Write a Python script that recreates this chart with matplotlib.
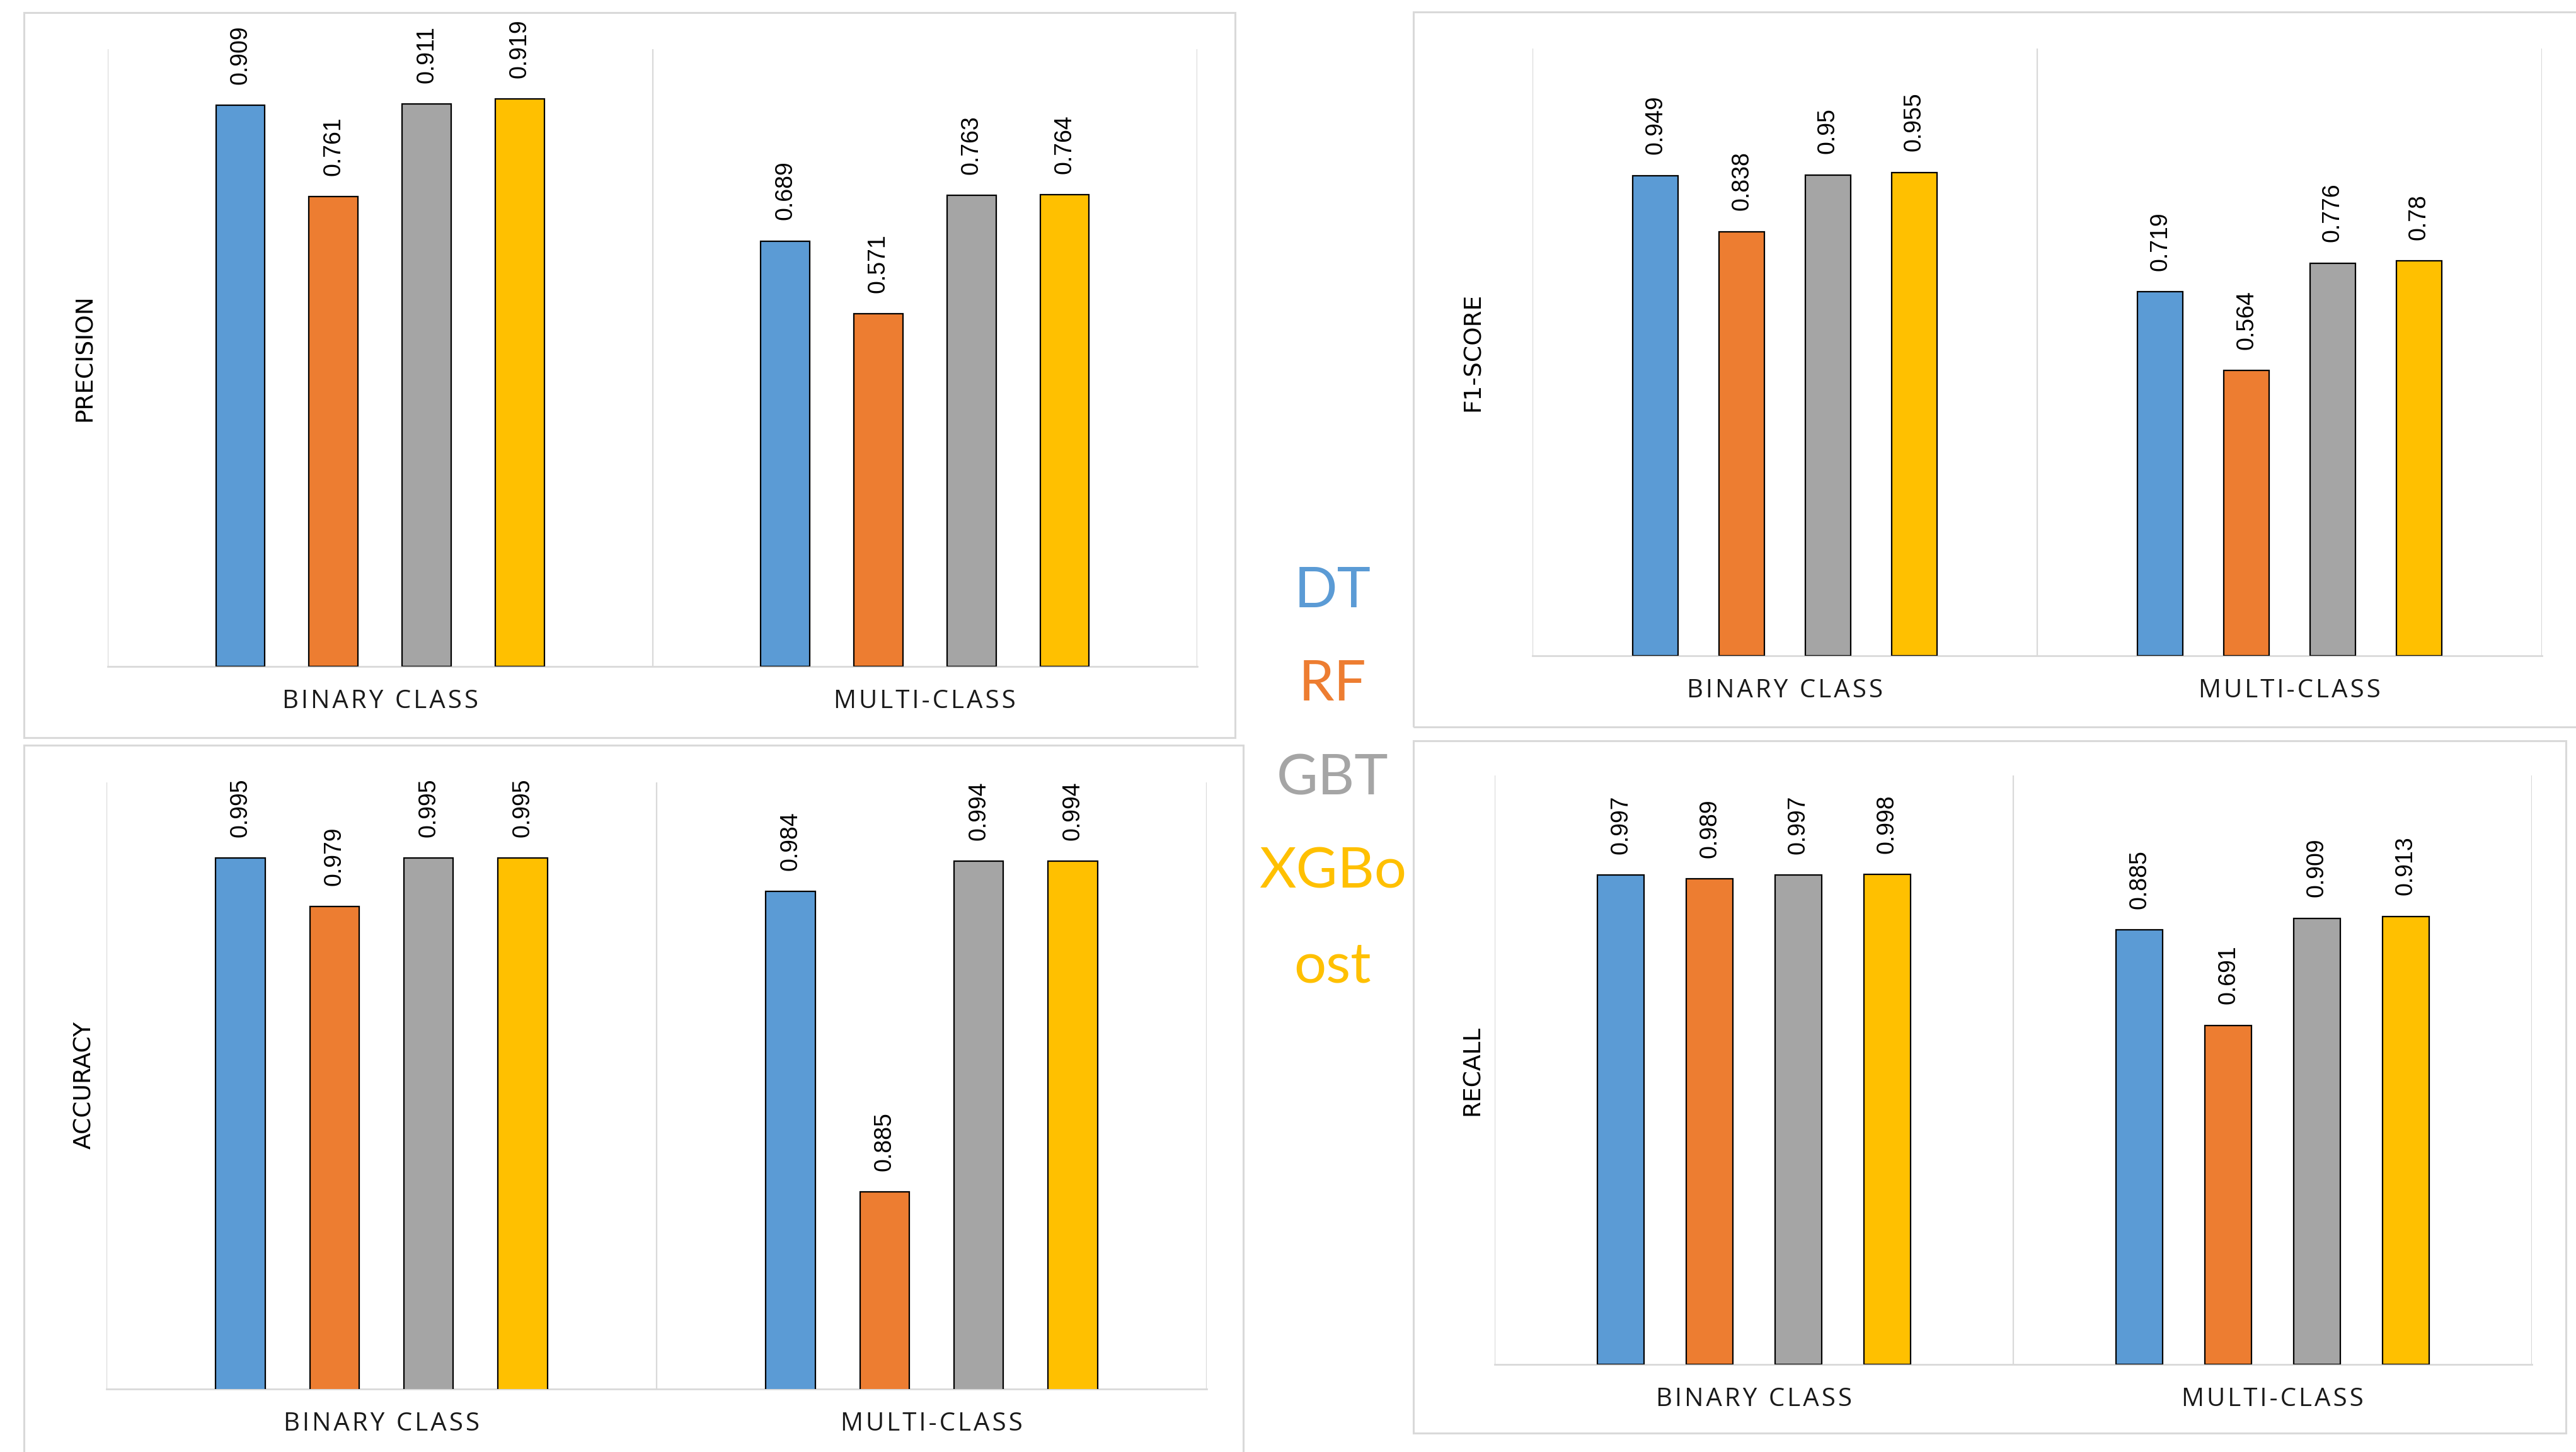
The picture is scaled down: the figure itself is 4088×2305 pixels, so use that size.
import matplotlib
matplotlib.use('Agg')
import matplotlib.pyplot as plt
from matplotlib.patches import Rectangle

# values
models = ['DT', 'RF', 'GBT', 'XGBoost']
categories = ['BINARY CLASS', 'MULTI-CLASS']

precision_binary = [0.909, 0.761, 0.911, 0.919]
precision_multi = [0.689, 0.571, 0.763, 0.764]
f1_binary = [0.949, 0.838, 0.95, 0.955]
f1_multi = [0.719, 0.564, 0.776, 0.78]
accuracy_binary = [0.995, 0.979, 0.995, 0.995]
accuracy_multi = [0.984, 0.885, 0.994, 0.994]
recall_binary = [0.997, 0.989, 0.997, 0.998]
recall_multi = [0.885, 0.691, 0.909, 0.913]

colors = ['#5B9BD5', '#ED7D31', '#A5A5A5', '#FFC000']
grid_col = '#D9D9D9'

W, H = 4088, 2305
fig = plt.figure(figsize=(W / 100, H / 100), dpi=100)


def px_rect(x0, y0, x1, y1):
    # pixel box (top-left origin) -> figure fraction rect
    return [x0 / W, 1 - y1 / H, (x1 - x0) / W, (y1 - y0) / H]


def spaced(s):
    # the category labels are letter-spaced in the original
    return '\u200a'.join(s)


def panel(border, plot, ylab, ylab_xy, binary, multi, ylim):
    # light grey frame round each chart
    bx0, by0, bx1, by1 = border
    fig.add_artist(Rectangle((bx0 / W, 1 - by1 / H), (bx1 - bx0) / W, (by1 - by0) / H,
                             transform=fig.transFigure, fill=False,
                             edgecolor=grid_col, linewidth=2.2))
    ax = fig.add_axes(px_rect(*plot))
    step, width = 0.171, 0.09
    for i in range(len(models)):
        off = (i - 1.5) * step
        vals = [binary[i], multi[i]]
        xs = [0.5 + off, 1.5 + off]
        ax.bar(xs, vals, width=width, color=colors[i], edgecolor='black',
               linewidth=1.6, zorder=3)
        for x, v in zip(xs, vals):
            ax.annotate('{:g}'.format(v), xy=(x, v), xytext=(0, 24),
                        textcoords='offset points', rotation=90,
                        ha='center', va='bottom', fontsize=27,
                        family='Liberation Sans', color='black')
    ax.set_xlim(0, 2)
    ax.set_ylim(*ylim)
    for x in [0, 1, 2]:
        ax.axvline(x, color=grid_col, linewidth=1.6, zorder=1)
    for s in ['top', 'right', 'left']:
        ax.spines[s].set_visible(False)
    ax.spines['bottom'].set_color(grid_col)
    ax.spines['bottom'].set_linewidth(2)
    ax.set_xticks([])
    ax.set_yticks([])
    for k, c in enumerate(categories):
        ax.annotate(spaced(c), xy=(0.5 + k, 0), xycoords=('data', 'axes fraction'),
                    xytext=(0, -40), textcoords='offset points',
                    ha='center', va='center', fontsize=29,
                    family=['Open Sans', 'DejaVu Sans'], color='#1a1a1a')
    fig.text(ylab_xy[0] / W, 1 - ylab_xy[1] / H, ylab, rotation=90,
             ha='center', va='center', fontsize=27, family='DejaVu Sans',
             color='black')
    return ax


panel((38, 20, 1960, 1171), (171, 78, 1900, 1058), 'PRECISION', (135, 568),
      precision_binary, precision_multi, (0, 1.0))
panel((2243, 19, 4095, 1154), (2432, 77, 4034, 1041), 'F1-SCORE', (2338, 559),
      f1_binary, f1_multi, (0, 1.2))
panel((38, 1183, 1973, 2315), (169, 1242, 1915, 2205), 'ACCURACY', (134, 1722),
      accuracy_binary, accuracy_multi, (0.82, 1.02))
panel((2243, 1176, 4072, 2275), (2372, 1231, 4018, 2166), 'RECALL', (2337, 1699),
      recall_binary, recall_multi, (0, 1.2))

# legend in the middle, written as coloured words
legend_lines = ['DT', 'RF', 'GBT', 'XGBo', 'ost']
legend_cols = [colors[0], colors[1], colors[2], colors[3], colors[3]]
legend_base = [964, 1112, 1262, 1410, 1559]
for t, c, y in zip(legend_lines, legend_cols, legend_base):
    fig.text(2115 / W, 1 - y / H, t, ha='center', va='baseline',
             fontsize=65, family='Lato', color=c)

fig.savefig('out.png', dpi=100, facecolor='white')
